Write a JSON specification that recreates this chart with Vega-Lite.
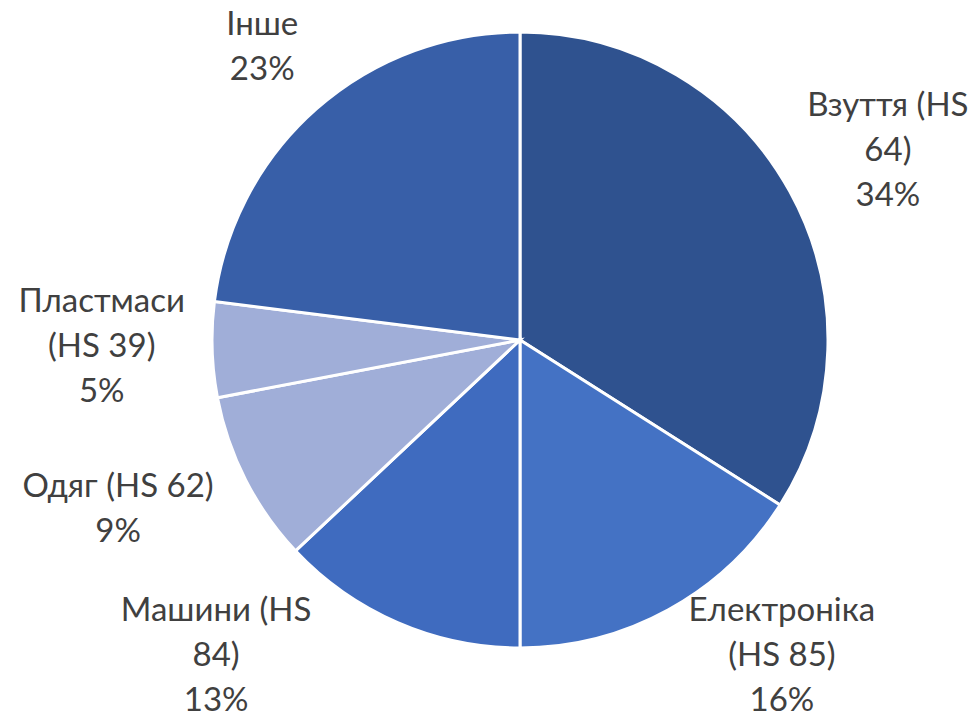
{
  "$schema": "https://vega.github.io/schema/vega-lite/v6.json",
  "width": 918,
  "height": 680,
  "autosize": "none",
  "padding": {"left": 61, "top": 0, "right": 0, "bottom": 37},
  "background": "white",
  "config": {
    "view": {"stroke": null},
    "text": {"font": "Lato", "fontSize": 33, "lineHeight": 45, "lineBreak": "\n", "color": "#404040", "align": "center", "baseline": "middle"}
  },
  "data": {
    "values": [
      {"category": "Взуття (HS 64)", "label": "Взуття (HS\n64)\n34%", "share": 34, "order": 1},
      {"category": "Електроніка (HS 85)", "label": "Електроніка\n(HS 85)\n16%", "share": 16, "order": 2},
      {"category": "Машини (HS 84)", "label": "Машини (HS\n84)\n13%", "share": 13, "order": 3},
      {"category": "Одяг (HS 62)", "label": "Одяг (HS 62)\n9%", "share": 9, "order": 4},
      {"category": "Пластмаси (HS 39)", "label": "Пластмаси\n(HS 39)\n5%", "share": 5, "order": 5},
      {"category": "Інше", "label": "Інше\n23%", "share": 23, "order": 6}
    ]
  },
  "transform": [
    {"stack": "share", "groupby": [], "sort": [{"field": "order", "order": "ascending"}], "as": ["s0", "s1"]}
  ],
  "encoding": {
    "theta": {"field": "s0", "type": "quantitative", "scale": {"domain": [0, 100]}}
  },
  "layer": [
    {
      "mark": {"type": "arc", "outerRadius": 308, "stroke": "white", "strokeWidth": 3},
      "encoding": {
        "theta2": {"field": "s1"},
        "color": {
          "field": "category",
          "type": "nominal",
          "legend": null,
          "scale": {
            "domain": ["Взуття (HS 64)", "Електроніка (HS 85)", "Машини (HS 84)", "Одяг (HS 62)", "Пластмаси (HS 39)", "Інше"],
            "range": ["#2F528F", "#4472C4", "#3F6BBF", "#A0AED8", "#A0AED8", "#385FA8"]
          }
        }
      }
    },
    {
      "transform": [{"filter": "datum.order == 1"}],
      "mark": {"type": "text", "radius": 436, "thetaOffset": 1.0044},
      "encoding": {"text": {"field": "label", "type": "nominal"}}
    },
    {
      "transform": [{"filter": "datum.order == 2"}],
      "mark": {"type": "text", "radius": 377, "thetaOffset": 0.2374},
      "encoding": {"text": {"field": "label", "type": "nominal"}}
    },
    {
      "transform": [{"filter": "datum.order == 3"}],
      "mark": {"type": "text", "radius": 407, "thetaOffset": 0.843},
      "encoding": {"text": {"field": "label", "type": "nominal"}}
    },
    {
      "transform": [{"filter": "datum.order == 4"}],
      "mark": {"type": "text", "radius": 428, "thetaOffset": 0.4032},
      "encoding": {"text": {"field": "label", "type": "nominal"}}
    },
    {
      "transform": [{"filter": "datum.order == 5"}],
      "mark": {"type": "text", "radius": 420, "thetaOffset": 0.2793},
      "encoding": {"text": {"field": "label", "type": "nominal"}}
    },
    {
      "transform": [{"filter": "datum.order == 6"}],
      "mark": {"type": "text", "radius": 407, "thetaOffset": 0.7592},
      "encoding": {"text": {"field": "label", "type": "nominal"}}
    }
  ]
}
